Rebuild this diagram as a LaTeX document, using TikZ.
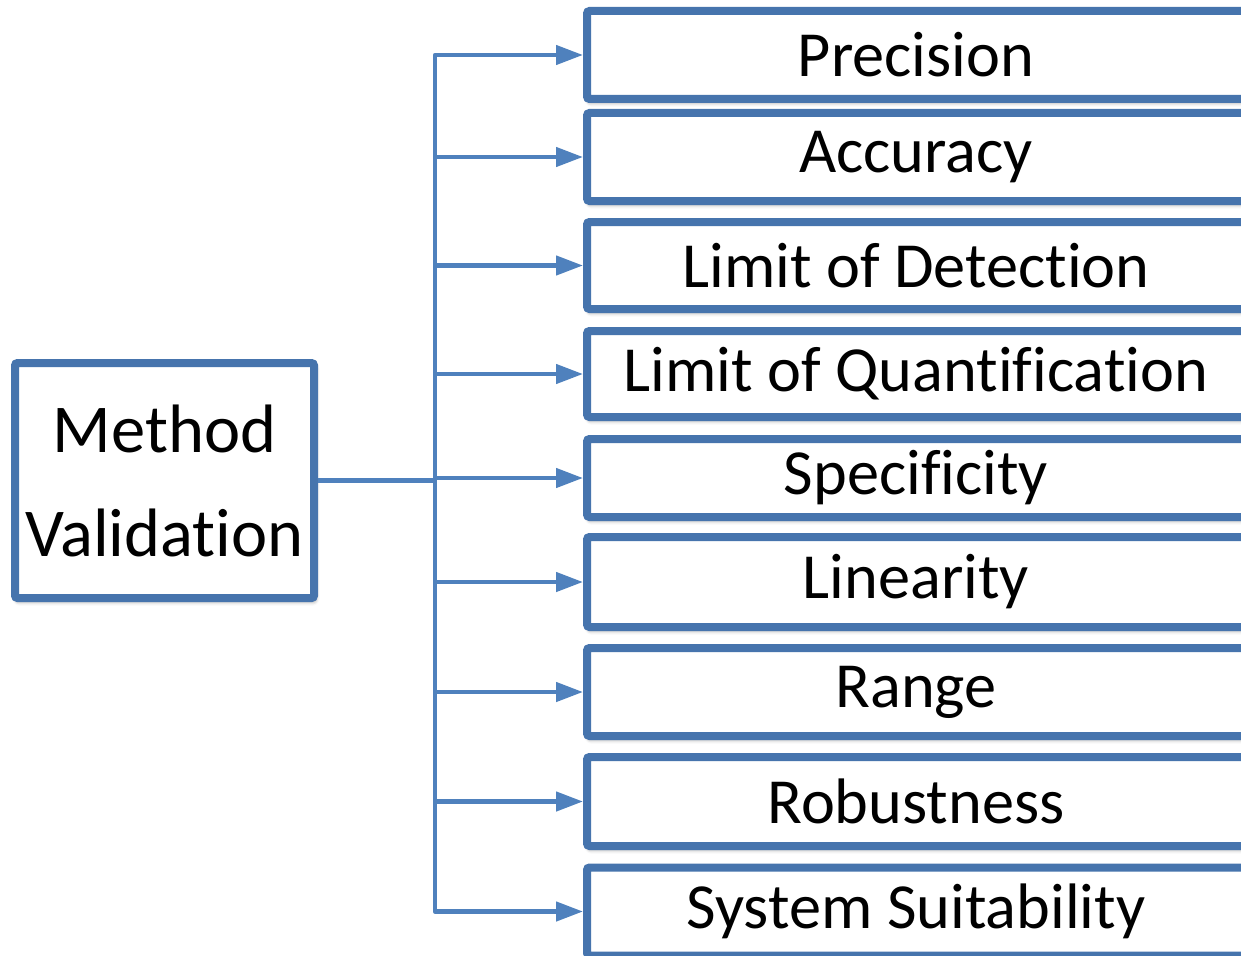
\documentclass[tikz,border=0pt]{standalone}
\usepackage{fontspec}
\setmainfont{Carlito}[RawFeature=-liga]
\usetikzlibrary{arrows.meta,shadows.blur}
\definecolor{boxblue}{HTML}{4674AD}
\definecolor{linkblue}{HTML}{4F81BD}
\tikzset{
  itembox/.style={draw=boxblue, line width=8pt, fill=white, rounded corners=2.5pt,
    minimum width=658pt, inner sep=0pt,
    font=\fontsize{64.3}{76}\selectfont,
    blur shadow={shadow xshift=1.5pt, shadow yshift=-3.5pt, shadow blur radius=4pt, shadow opacity=45}},
  mainbox/.style={draw=boxblue, line width=8pt, fill=white, rounded corners=2.5pt,
    minimum width=299pt, minimum height=235pt, inner sep=0pt, align=center,
    font=\fontsize{68.5}{104}\selectfont,
    blur shadow={shadow xshift=1.5pt, shadow yshift=-3.5pt, shadow blur radius=4pt, shadow opacity=45}},
  link/.style={draw=linkblue, line width=4.5pt, line join=round},
  linkarrow/.style={link, -{Triangle[length=27pt,width=19pt]}}
}
\newcommand{\lbl}[1]{\raisebox{-2.5pt}{#1}}
\begin{document}
\begin{tikzpicture}[x=1pt,y=-1pt]
\useasboundingbox (0,0) rectangle (1241,955);
\node[mainbox] (mv) at (164.5,480.5) {Method\\Validation};
\node[itembox, minimum height=88pt] (b1) at (916,55) {\lbl{Precision}};
\node[itembox, minimum height=88pt] (b2) at (916,157) {\lbl{Accuracy}};
\node[itembox, minimum height=87pt] (b3) at (916,265.5) {\lbl{Limit of Detection}};
\node[itembox, minimum height=86pt] (b4) at (916,374) {\lbl{Limit of Quantification}};
\node[itembox, minimum height=78pt] (b5) at (916,478) {\lbl{Specificity}};
\node[itembox, minimum height=90pt] (b6) at (916,582) {\lbl{Linearity}};
\node[itembox, minimum height=88pt] (b7) at (916,692) {\lbl{Range}};
\node[itembox, minimum height=89pt] (b8) at (916,801.5) {\lbl{Robustness}};
\node[itembox, minimum height=88pt] (b9) at (916,911.5) {\lbl{System Suitability}};
\coordinate (hub) at (435,480.5);
\draw[link] (mv.east) -- (hub);
\foreach \b in {b1,b2,b3,b4,b5,b6,b7,b8,b9}
  \draw[linkarrow] (hub) |- (\b.west);
\end{tikzpicture}
\end{document}
